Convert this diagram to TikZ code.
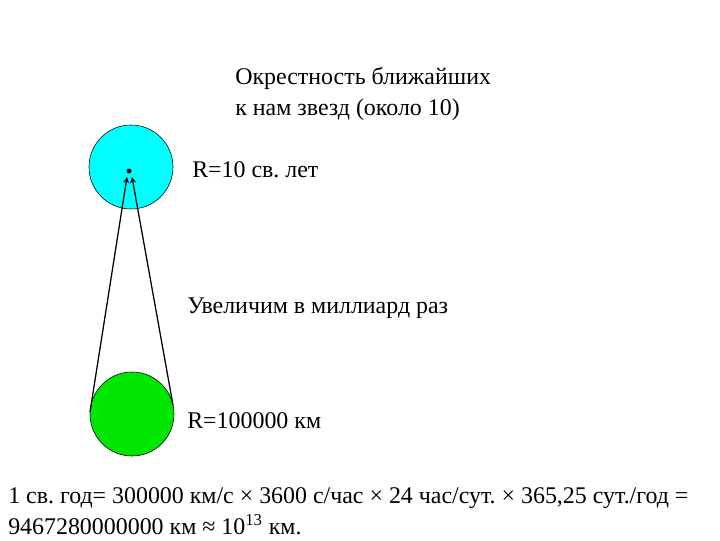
\documentclass[tikz,border=0pt]{standalone}
\usepackage{fontspec}
\setmainfont{Liberation Serif}
\usetikzlibrary{positioning}
\definecolor{skycyan}{RGB}{0,255,255}
\definecolor{sungreen}{RGB}{0,230,0}
\frenchspacing
\begin{document}
\begin{tikzpicture}[x=0.025cm,y=-0.025cm,>=stealth,font=\fontsize{17}{22}\selectfont,
    star/.style={draw,circle,minimum size=84*0.025cm,inner sep=0pt},
    lbl/.style={anchor=west,inner sep=0pt,align=left}]
  \useasboundingbox (0,0) rectangle (720,540);

  % Neighbourhood of the nearest stars
  \node[star,fill=skycyan] (near) at (131,167) {};
  \node[circle,fill=black,inner sep=0pt,minimum size=5*0.025cm] (dot) at (129,171) {};
  \node[lbl] (title) at (235,94) {Окрестность ближайших\\к нам звезд (около 10)};
  \node[lbl] (nearR) at (192,170) {R=10 св. лет};

  % The Sun, magnified
  \node[star,fill=sungreen] (sun) at (132,414) {};
  \node[lbl] (sunR) at (187,421) {R=100000 км};
  \node[lbl] (zoom) at (187,308) {Увеличим в миллиард раз};

  \coordinate (sunL) at (90,412);
  \coordinate (sunRt) at (173,405);
  \draw[->,line width=0.9pt] (sunL) -- ([xshift=-2*0.025cm,yshift=-6*0.025cm]dot.center);
  \draw[->,line width=0.9pt] (sunRt) -- ([xshift=3*0.025cm,yshift=-6*0.025cm]dot.center);

  % Light year
  \node[lbl] (year) at (8,511) {1 св. год= 300000 км/с × 3600 с/час × 24 час/сут. × 365,25 сут./год =\\9467280000000 км ≈ 10\textsuperscript{13} км.};
\end{tikzpicture}
\end{document}
